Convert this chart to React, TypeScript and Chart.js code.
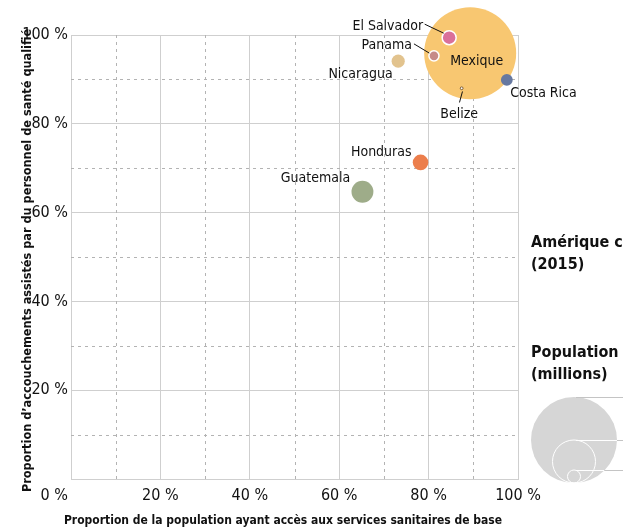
import React, { useEffect, useRef } from "react";
import { Chart, registerables } from "chart.js";

Chart.register(...registerables);

// ---------- DATA ----------
const countries = ["Mexique", "Guatemala", "Honduras", "El Salvador", "Nicaragua", "Costa Rica", "Panama", "Belize"];
const sanitationPct = [89.3, 65.2, 78.2, 84.6, 73.2, 97.5, 81.2, 87.4];
const skilledBirthPct = [95.9, 64.7, 71.3, 99.4, 94.1, 89.9, 95.3, 88.0];
const populationMillions = [127, 13, 7.6, 6.4, 5.8, 4.9, 3.8, 0.5];
const sizeLegendValues = [114, 38, 5.7];
const majorTicks = [0, 20, 40, 60, 80, 100];
const minorTicks = [10, 30, 50, 70, 90];

const xTitle = "Proportion de la population ayant accès aux services sanitaires de base";
const yTitle = "Proportion d\u2019accouchements assistés par du personnel de santé qualifié";
const legendTitle = ["Amérique centrale", "(2015)"];
const sizeTitle = ["Population", "(millions)"];

// ---------- STYLE ----------
const FONT = "'DejaVu Sans Condensed', 'Liberation Sans Narrow', sans-serif";
const fillColors = ["#F8C771", "#9EAC89", "#EC7E4C", "#DA709A", "#E2C38E", "#6678A0", "#C68A88", "#FFFFFF"];
const borderColors = ["#F8C771", "#9EAC89", "#EC7E4C", "#FFFFFF", "#E2C38E", "#6678A0", "#FFFFFF", "#7A5A30"];
const borderWidths = [0, 0, 0, 1.5, 0, 0, 1.5, 1];

const R_MAX = 46;
const V_MAX = 127;
const radiusOf = (v: number) => R_MAX * Math.pow(v / V_MAX, 0.63);

type LabelStyle = { align: CanvasTextAlign; dx: number; dy: number; leader?: number[] };
const labelStyles: LabelStyle[] = [
  { align: "center", dx: 6.5, dy: 11.3 },
  { align: "right", dx: -12.3, dy: -9.4 },
  { align: "right", dx: -9, dy: -6.6 },
  { align: "right", dx: -26, dy: -7.7, leader: [-24.5, -13.5, -5.5, -4.5] },
  { align: "right", dx: -5.6, dy: 17.3 },
  { align: "left", dx: 3.3, dy: 16.7 },
  { align: "right", dx: -22, dy: -6.7, leader: [-20, -12, -4.7, -2.8] },
  { align: "center", dx: -2.5, dy: 30, leader: [0.8, 3.2, -2.2, 14.2] },
];

const overlayPlugin = {
  id: "overlay",
  beforeDatasetsDraw(chart: any) {
    const { ctx, chartArea, scales } = chart;
    const xs = scales.x;
    const ys = scales.y;
    ctx.save();
    ctx.strokeStyle = "#b3b3b3";
    ctx.lineWidth = 1;
    ctx.setLineDash([3, 4]);
    minorTicks.forEach((v) => {
      const px = Math.round(xs.getPixelForValue(v)) + 0.5;
      ctx.beginPath();
      ctx.moveTo(px, chartArea.top);
      ctx.lineTo(px, chartArea.bottom);
      ctx.stroke();
      const py = Math.round(ys.getPixelForValue(v)) + 0.5;
      ctx.beginPath();
      ctx.moveTo(chartArea.left, py);
      ctx.lineTo(chartArea.right, py);
      ctx.stroke();
    });
    ctx.restore();
  },
  afterDatasetsDraw(chart: any) {
    const { ctx, chartArea, scales } = chart;
    const xs = scales.x;
    const ys = scales.y;
    ctx.save();
    // country labels
    countries.forEach((name, i) => {
      const st = labelStyles[i];
      const cx = xs.getPixelForValue(sanitationPct[i]);
      const cy = ys.getPixelForValue(skilledBirthPct[i]);
      ctx.fillStyle = "#111";
      ctx.font = `14px ${FONT}`;
      ctx.textAlign = st.align;
      ctx.textBaseline = "alphabetic";
      ctx.fillText(name, cx + st.dx, cy + st.dy);
      if (st.leader) {
        ctx.strokeStyle = "#111";
        ctx.lineWidth = 1;
        ctx.beginPath();
        ctx.moveTo(cx + st.leader[0], cy + st.leader[1]);
        ctx.lineTo(cx + st.leader[2], cy + st.leader[3]);
        ctx.stroke();
      }
    });
    // corner "0 %" label
    ctx.fillStyle = "#111";
    ctx.font = `16px ${FONT}`;
    ctx.textAlign = "right";
    ctx.textBaseline = "alphabetic";
    ctx.fillText("0 %", chartArea.left - 3, chartArea.bottom + 21);

    // axis titles
    ctx.font = `bold 12px ${FONT}`;
    ctx.textAlign = "center";
    ctx.fillText(xTitle, 283, chartArea.bottom + 45);
    ctx.save();
    ctx.font = `bold 12.6px ${FONT}`;
    ctx.translate(31, 260.5);
    ctx.rotate(-Math.PI / 2);
    ctx.fillText(yTitle, 0, 0);
    ctx.restore();

    // legend titles
    const lx = chartArea.right + 13;
    ctx.textAlign = "left";
    ctx.font = `bold 16px ${FONT}`;
    ctx.fillText(legendTitle[0], lx, 247);
    ctx.fillText(legendTitle[1], lx, 269);
    ctx.fillText(sizeTitle[0], lx, 357);
    ctx.fillText(sizeTitle[1], lx, 379);

    // size legend
    const bx = chartArea.right + 56;
    const baseY = 483;
    sizeLegendValues.forEach((v, i) => {
      const r = radiusOf(v);
      const cy = baseY - r;
      ctx.beginPath();
      ctx.arc(bx, cy, r, 0, Math.PI * 2);
      if (i === 0) {
        ctx.fillStyle = "#d6d6d6";
        ctx.fill();
      } else {
        ctx.strokeStyle = "#ffffff";
        ctx.lineWidth = 1;
        ctx.stroke();
      }
    });
    const bigR = radiusOf(sizeLegendValues[0]);
    sizeLegendValues.forEach((v, i) => {
      const r = radiusOf(v);
      const ty = Math.round(baseY - 2 * r) + 0.5;
      const startX = bx + 2;
      const dxEdge = Math.sqrt(Math.max(0, bigR * bigR - (ty - (baseY - bigR)) ** 2));
      const edgeX = bx + dxEdge;
      ctx.lineWidth = 1;
      if (i > 0) {
        ctx.strokeStyle = "#ffffff";
        ctx.beginPath();
        ctx.moveTo(startX, ty);
        ctx.lineTo(edgeX, ty);
        ctx.stroke();
      }
      ctx.strokeStyle = "#c4c4c4";
      ctx.beginPath();
      ctx.moveTo(i > 0 ? edgeX : startX, ty);
      ctx.lineTo(bx + 90, ty);
      ctx.stroke();
    });
    ctx.restore();
  },
};

export default function App() {
  const ref = useRef<HTMLCanvasElement | null>(null);
  useEffect(() => {
    if (!ref.current) return;
    Chart.defaults.font.family = FONT;
    Chart.defaults.color = "#111";
    const chart = new Chart(ref.current, {
      type: "bubble",
      data: {
        datasets: [
          {
            label: "Amérique centrale",
            data: countries.map((_, i) => ({ x: sanitationPct[i], y: skilledBirthPct[i], r: radiusOf(populationMillions[i]) })),
            backgroundColor: fillColors,
            borderColor: borderColors,
            borderWidth: borderWidths,
            hoverRadius: 0,
            clip: false,
          },
        ],
      },
      options: {
        responsive: false,
        animation: false,
        devicePixelRatio: 1,
        layout: { autoPadding: false, padding: { top: 35, right: 105, left: 0, bottom: 0 } },
        plugins: { legend: { display: false }, tooltip: { enabled: false } },
        scales: {
          x: {
            type: "linear",
            min: 0,
            max: 100,
            afterBuildTicks: (axis: any) => {
              axis.ticks = majorTicks.map((v) => ({ value: v }));
            },
            afterFit: (axis: any) => {
              axis.height = 50;
            },
            ticks: {
              padding: 7,
              font: { size: 16 },
              color: "#111",
              maxRotation: 0,
              autoSkip: false,
              callback: (v: any) => (v === 0 ? "" : `${v} %`),
            },
            grid: { color: "#cfcfcf", lineWidth: 1, drawTicks: false },
            border: { color: "#cfcfcf", width: 1 },
          },
          y: {
            type: "linear",
            min: 0,
            max: 100,
            afterBuildTicks: (axis: any) => {
              axis.ticks = majorTicks.map((v) => ({ value: v }));
            },
            afterFit: (axis: any) => {
              axis.width = 71;
            },
            ticks: {
              padding: 3,
              font: { size: 16 },
              color: "#111",
              autoSkip: false,
              callback: (v: any) => (v === 0 ? "" : `${v} %`),
            },
            grid: { color: "#cfcfcf", lineWidth: 1, drawTicks: false },
            border: { color: "#cfcfcf", width: 1 },
          },
        },
      },
      plugins: [overlayPlugin],
    } as any);
    return () => chart.destroy();
  }, []);
  return (
    <div style={{ position: "fixed", left: 0, top: 0, width: 623, height: 529, background: "#fff" }}>
      <canvas ref={ref} width={623} height={529} />
    </div>
  );
}
